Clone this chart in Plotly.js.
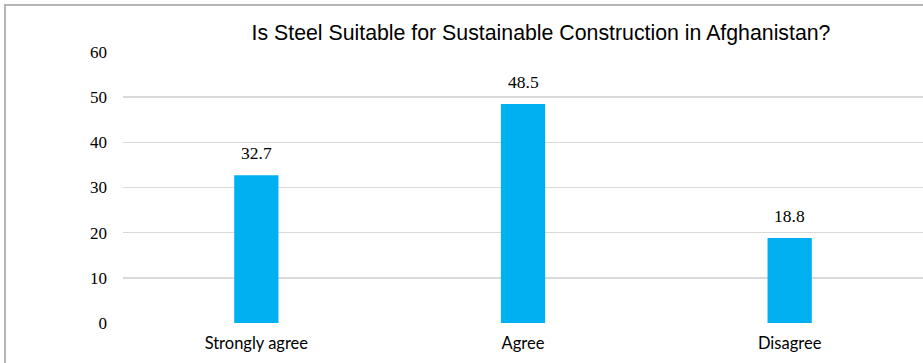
<!DOCTYPE html>
<html>
<head>
<meta charset="utf-8">
<script src="https://cdn.plot.ly/plotly-3.0.1.min.js"></script>
<style>html,body{margin:0;padding:0;background:#fff;}#chart{width:923px;height:363px;}</style>
</head>
<body>
<div id="chart"></div>
<script>
const categories = ["Strongly agree", "Agree", "Disagree"];
const values = [32.7, 48.5, 18.8];
const yTicks = [0, 10, 20, 30, 40, 50, 60];
const titleText = "Is Steel Suitable for Sustainable Construction in Afghanistan?";

const trace = {
  type: "bar",
  x: categories,
  y: values,
  width: 0.166,
  marker: {color: "#00b0f0"},
  hoverinfo: "none"
};

const labelAnnotations = categories.map((c, i) => ({
  x: c, y: values[i], xref: "x", yref: "y",
  text: values[i].toFixed(1),
  showarrow: false,
  xanchor: "center", yanchor: "bottom",
  yshift: 10,
  font: {family: "Liberation Serif, Times New Roman, serif", size: 17.5, color: "#000"}
}));

const layout = {
  width: 923, height: 363,
  margin: {l: 123, r: 0, t: 52, b: 40, pad: 0},
  paper_bgcolor: "#fff", plot_bgcolor: "#fff",
  showlegend: false,
  title: {
    text: titleText,
    font: {family: "Liberation Sans, Arial, sans-serif", size: 21.3, color: "#000"},
    x: 541/923, xanchor: "center", xref: "container",
    y: 1 - 33/363, yanchor: "middle", yref: "container"
  },
  xaxis: {
    type: "category",
    showgrid: false, zeroline: false, showline: false, ticks: "",
    tickfont: {family: "Lato, Open Sans, sans-serif", size: 16.5, color: "#000"},
    ticklabelstandoff: 8,
    fixedrange: true
  },
  yaxis: {
    range: [0, 60],
    tickvals: yTicks,
    ticktext: yTicks.map(String),
    showgrid: true, gridcolor: "#d9d9d9", gridwidth: 1.5,
    zeroline: false, showline: false, ticks: "",
    tickfont: {family: "Liberation Serif, Times New Roman, serif", size: 17, color: "#000"},
    ticklabelstandoff: 15,
    fixedrange: true
  },
  annotations: labelAnnotations,
  shapes: [{
    type: "rect", xref: "paper", yref: "paper",
    x0: (5 - 123) / 800, x1: 1.2,
    y0: -0.5, y1: (323 - 5) / 271,
    line: {color: "#b4b4b4", width: 2},
    fillcolor: "rgba(0,0,0,0)",
    layer: "below"
  }],
  bargap: 0.2
};

Plotly.newPlot("chart", [trace], layout, {displayModeBar: false, staticPlot: true});
</script>
</body>
</html>
